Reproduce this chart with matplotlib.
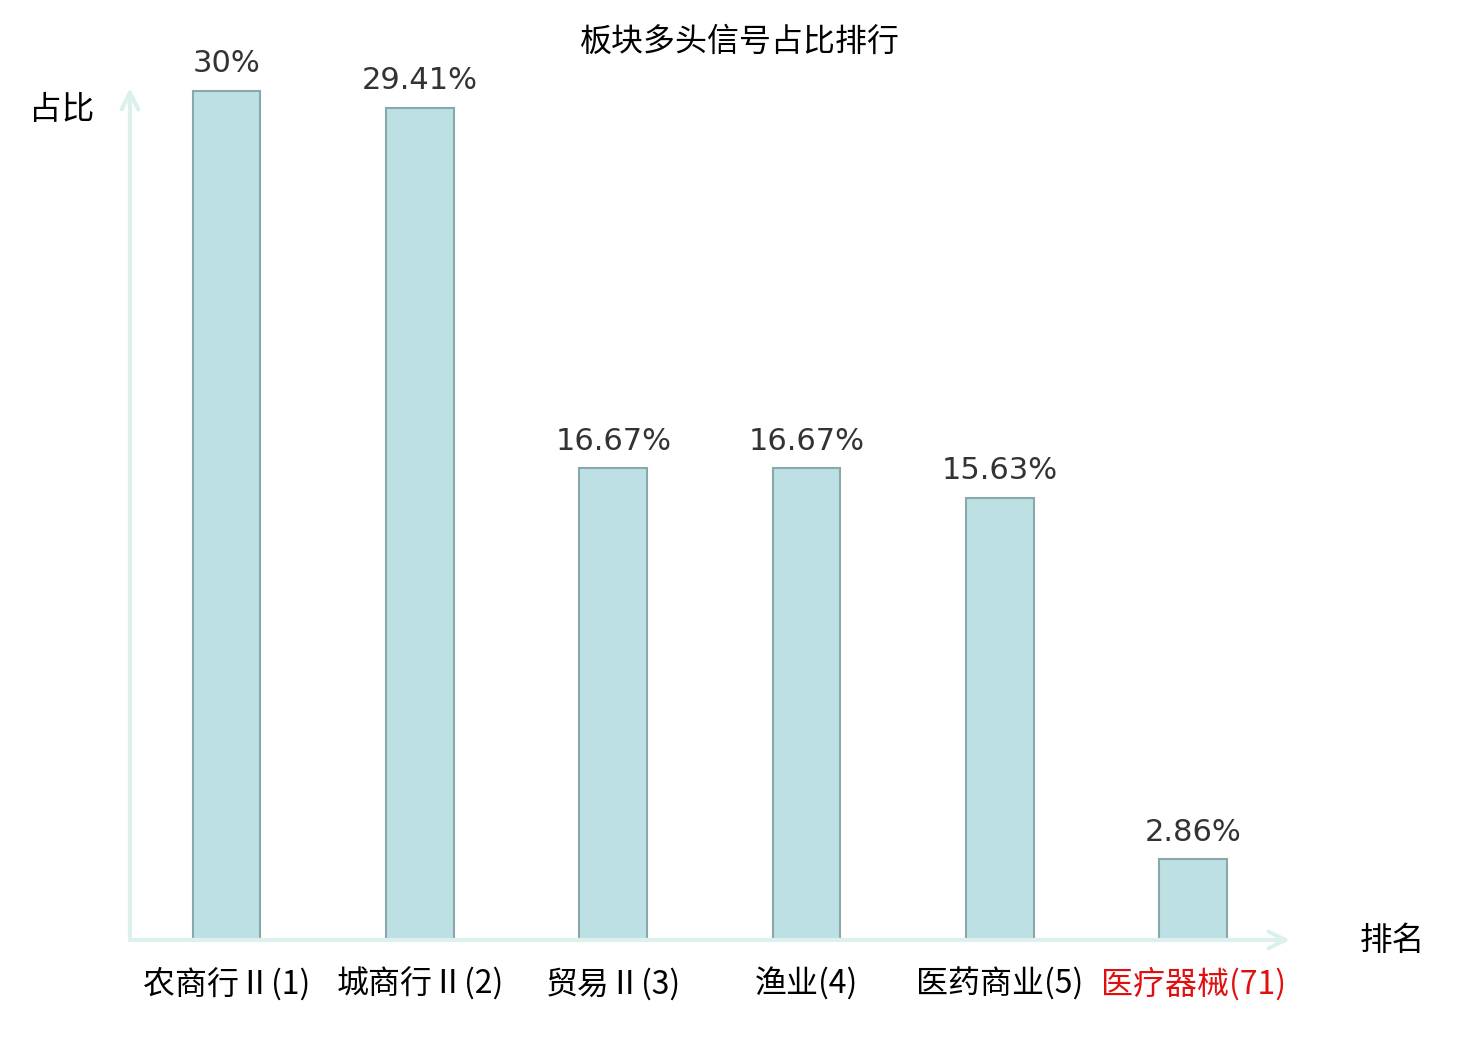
import matplotlib
matplotlib.use('Agg')
import matplotlib.pyplot as plt

plt.rcParams['font.family'] = ['Noto Sans CJK SC', 'DejaVu Sans']

# data
sectors = ['农商行Ⅱ', '城商行Ⅱ', '贸易Ⅱ', '渔业', '医药商业', '医疗器械']
ranks = [1, 2, 3, 4, 5, 71]
ratios = [30, 29.41, 16.67, 16.67, 15.63, 2.86]
value_labels = ['30%', '29.41%', '16.67%', '16.67%', '15.63%', '2.86%']
highlight = '医疗器械'

bar_fill = '#bce0e3'
bar_edge = '#8aa7aa'
axis_col = '#dcf1ee'

fig = plt.figure(figsize=(14.8, 10.4), dpi=100)
ax = fig.add_axes([0.0878, 0.0962, 0.7838, 0.8192])

x = list(range(len(sectors)))
ax.bar(x, ratios, width=0.35, color=bar_fill, edgecolor=bar_edge, linewidth=1.5)

for xi, v, lab in zip(x, ratios, value_labels):
    ax.annotate(lab, (xi, v), xytext=(0, 9), textcoords='offset points',
                ha='center', va='bottom', fontsize=22, color='#333333',
                family='DejaVu Sans')

ax.set_xlim(-0.5, 5.5)
ax.set_ylim(0, 30.1)

for s in ax.spines.values():
    s.set_visible(False)
ax.set_yticks([])
ax.set_xticks(x)
ax.set_xticklabels([f'{s}({r})' for s, r in zip(sectors, ranks)], fontsize=23)
ax.tick_params(axis='x', length=0, pad=20)
for t, s in zip(ax.get_xticklabels(), sectors):
    t.set_color('#e01010' if s == highlight else 'black')

# arrow axes
ax.annotate('', xy=(1.0, 0), xytext=(0, 0), xycoords='axes fraction',
            arrowprops=dict(arrowstyle='->', color=axis_col, lw=3,
                            mutation_scale=30, shrinkA=0, shrinkB=0))
ax.annotate('', xy=(0, 1.0), xytext=(0, 0), xycoords='axes fraction',
            arrowprops=dict(arrowstyle='->', color=axis_col, lw=3,
                            mutation_scale=30, shrinkA=0, shrinkB=0))

fig.text(0.5, 1 - 42 / 1040, '板块多头信号占比排行', ha='center', va='center', fontsize=23)
fig.text(62 / 1480, 1 - 110 / 1040, '占比', ha='center', va='center', fontsize=23.5)
fig.text(1392 / 1480, 1 - 941 / 1040, '排名', ha='center', va='center', fontsize=23.5)

fig.savefig('out.png', dpi=100)
